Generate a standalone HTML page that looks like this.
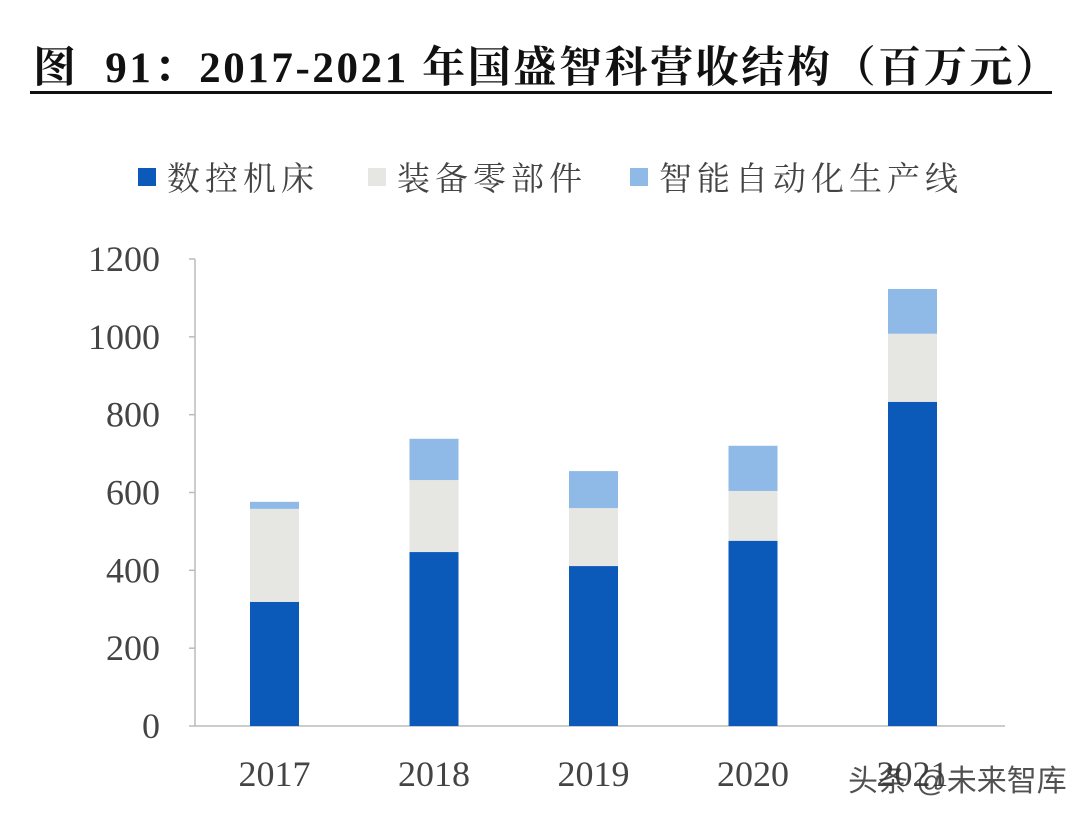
<!DOCTYPE html>
<html><head><meta charset="utf-8"><style>
body{margin:0;width:1080px;height:816px;background:#fff;overflow:hidden;position:relative;font-family:"Liberation Serif","Noto Serif CJK SC",serif;}
#title{position:absolute;left:33px;top:34px;font-size:43px;font-weight:bold;color:#111;white-space:nowrap;letter-spacing:2.6px}
#rule{position:absolute;left:30px;top:91px;width:1022px;height:3px;background:#111}
</style></head><body>
<div id="title">图&nbsp;&nbsp;91：2017-2021 年国盛智科营收结构（百万元）</div>
<div id="rule"></div>
<svg id="chart" width="1080" height="816" style="position:absolute;left:0;top:0"></svg>
<div style="position:absolute;left:848px;top:756px;font-family:'Liberation Sans','Noto Sans CJK SC',sans-serif;font-size:30px;color:#333;opacity:0.85">头条 @未来智库</div>
<script>
const categories=["2017","2018","2019","2020","2021"];
const cnc=[319,447,411,476,833];
const parts=[239,185,149,128,175];
const auto=[18,106,95,116,115];
const seriesNames=["数控机床","装备零部件","智能自动化生产线"];
const colors=["#0b59b8","#e6e6e2","#8fb9e6"];
const yTicks=[0,200,400,600,800,1000,1200];
const NS="http://www.w3.org/2000/svg";
const svg=document.getElementById('chart');
const y0=726,yTop=259,yMax=1200;
function y(v){return y0-(v/yMax)*(y0-yTop);}
const step=159.5,bw=49;
function xc(i){return 274.5+i*step;}
function mk(t,a,txt){const e=document.createElementNS(NS,t);for(const k in a)e.setAttribute(k,a[k]);if(txt!==undefined)e.textContent=txt;svg.appendChild(e);return e;}
let ax=mk('line',{x1:195,y1:yTop,x2:195,y2:y0,stroke:'#bbb','stroke-width':1.5});


let bx=mk('line',{x1:195,y1:y0,x2:1005,y2:y0,stroke:'#bbb','stroke-width':1.5});


yTicks.forEach(v=>{
 const t=mk('text',{x:160,y:y(v)+12,'text-anchor':'end','font-size':36,fill:'#444','font-family':'Liberation Serif, serif'},String(v));
 
 
 const tk=mk('line',{x1:189,y1:y(v),x2:195,y2:y(v),stroke:'#bbb','stroke-width':1.5});
 
 
});
categories.forEach((c,i)=>{
 const t=mk('text',{x:xc(i),y:786,'text-anchor':'middle','font-size':36,fill:'#444','font-family':'Liberation Serif, serif'},c);
 
 
 let base=0;
 [cnc,parts,auto].forEach((s,k)=>{
  const v=s[i];
  const r=mk('rect',{x:xc(i)-bw/2,y:y(base+v),width:bw,height:y(base)-y(base+v),fill:colors[k]});
  
  
  base+=v;
 });
});
const lx=[138,368,630];
seriesNames.forEach((n,k)=>{
 const r=mk('rect',{x:lx[k],y:168,width:18,height:18,fill:colors[k]});
 
 
 const t=mk('text',{x:lx[k]+29,y:190,'font-size':33,fill:'#444','font-family':'Liberation Serif, Noto Serif CJK SC, serif','letter-spacing':5},n);
 
 
});
</script>
</body></html>
